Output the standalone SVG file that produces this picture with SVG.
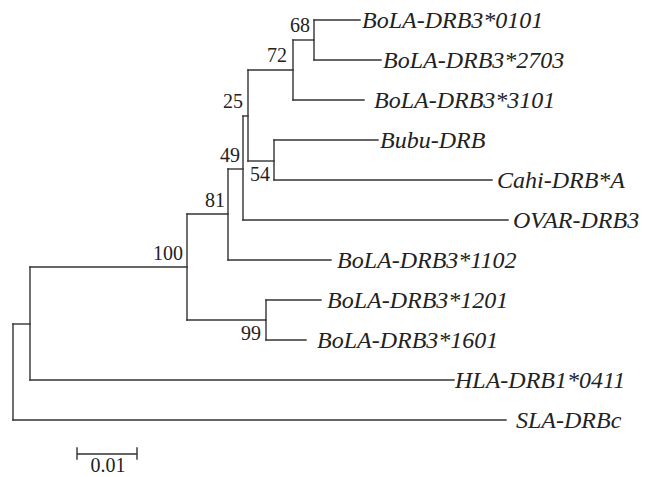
<svg xmlns="http://www.w3.org/2000/svg" width="647" height="477" viewBox="0 0 647 477">
<style>
.br{fill:none;stroke:#333;stroke-width:1.4;stroke-linecap:square}
.leaf{font-family:"Liberation Serif","Times New Roman",serif;font-style:italic;font-size:24px;fill:#222}
.bs{font-family:"Liberation Serif","Times New Roman",serif;font-size:20px;fill:#222;text-anchor:end}
.sc{font-family:"Liberation Serif","Times New Roman",serif;font-size:20px;fill:#222;text-anchor:middle}
</style>
<rect width="647" height="477" fill="#fff"/>
<g id="connectors" class="br">
<path d="M13,324 V420"/>
<path d="M30,267 V380"/>
<path d="M187,214 V320"/>
<path d="M228,169 V260"/>
<path d="M243,116 V220"/>
<path d="M248,70 V161"/>
<path d="M293,40 V100"/>
<path d="M314,20 V60"/>
<path d="M274,140 V180"/>
<path d="M266,300 V340"/>
<path d="M13,324 H30"/>
<path d="M30,267 H187"/>
<path d="M187,214 H228"/>
<path d="M228,169 H243"/>
<path d="M243,116 H248"/>
<path d="M248,70 H293"/>
<path d="M293,40 H314"/>
<path d="M248,161 H274"/>
<path d="M187,320 H266"/>
<path d="M314,20 H360"/>
<path d="M314,60 H381"/>
<path d="M293,100 H364"/>
<path d="M274,140 H378"/>
<path d="M274,180 H492"/>
<path d="M243,220 H508"/>
<path d="M228,260 H331"/>
<path d="M266,300 H321"/>
<path d="M266,340 H306"/>
<path d="M30,380 H454"/>
<path d="M13,420 H506"/>
</g>
<g id="leaf-BoLA-DRB3-0101"><text class="leaf" x="362" y="28">BoLA-DRB3*0101</text></g>
<g id="leaf-BoLA-DRB3-2703"><text class="leaf" x="383" y="68">BoLA-DRB3*2703</text></g>
<g id="leaf-BoLA-DRB3-3101"><text class="leaf" x="374" y="108">BoLA-DRB3*3101</text></g>
<g id="leaf-Bubu-DRB"><text class="leaf" x="380" y="148">Bubu-DRB</text></g>
<g id="leaf-Cahi-DRB-A"><text class="leaf" x="497" y="188">Cahi-DRB*A</text></g>
<g id="leaf-OVAR-DRB3"><text class="leaf" x="513" y="228">OVAR-DRB3</text></g>
<g id="leaf-BoLA-DRB3-1102"><text class="leaf" x="337" y="268">BoLA-DRB3*1102</text></g>
<g id="leaf-BoLA-DRB3-1201"><text class="leaf" x="327" y="308">BoLA-DRB3*1201</text></g>
<g id="leaf-BoLA-DRB3-1601"><text class="leaf" x="317" y="348">BoLA-DRB3*1601</text></g>
<g id="leaf-HLA-DRB1-0411"><text class="leaf" x="455" y="388">HLA-DRB1*0411</text></g>
<g id="leaf-SLA-DRBc"><text class="leaf" x="516" y="428">SLA-DRBc</text></g>
<g id="node-68"><text class="bs" x="310" y="32">68</text></g>
<g id="node-72"><text class="bs" x="287" y="62">72</text></g>
<g id="node-25"><text class="bs" x="243" y="108">25</text></g>
<g id="node-49"><text class="bs" x="240" y="162">49</text></g>
<g id="node-54"><text class="bs" x="270" y="181">54</text></g>
<g id="node-81"><text class="bs" x="225" y="207">81</text></g>
<g id="node-100"><text class="bs" x="183" y="260">100</text></g>
<g id="node-99"><text class="bs" x="261" y="340">99</text></g>
<g id="scale-bar">
<path class="br" d="M77,454 H137 M77,448 V459 M137,448 V459"/>
<text class="sc" x="108" y="472">0.01</text>
</g>
</svg>
